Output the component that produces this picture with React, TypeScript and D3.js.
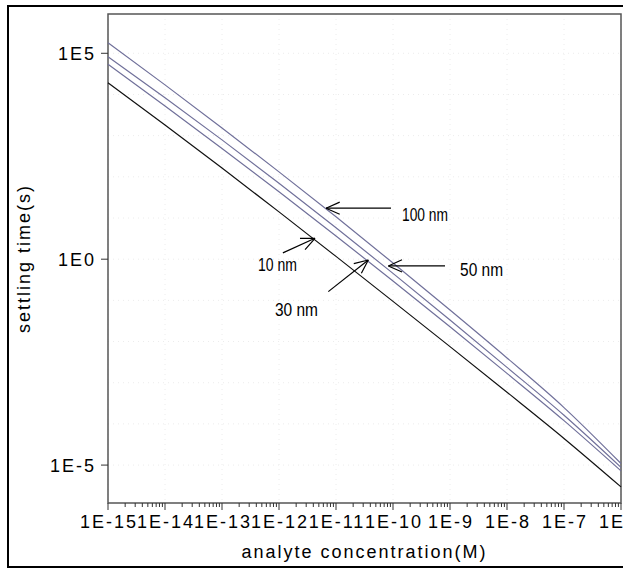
import { useMemo } from 'react';
import * as d3 from 'd3';

// analyte concentration (M), one point per decade
const concentrations = [1e-15, 1e-14, 1e-13, 1e-12, 1e-11, 1e-10, 1e-9, 1e-8, 1e-7, 1e-6];

// settling time (s) for each particle size
const time100nm = [1.81e5, 1.71e4, 1.54e3, 132, 10.7, 0.807, 0.0582, 3.99e-3, 2.49e-4, 1.09e-5];
const time50nm = [8.26e4, 8.36e3, 789, 70.0, 5.81, 0.453, 0.0333, 2.36e-3, 1.62e-4, 8.79e-6];
const time30nm = [5.41e4, 5.27e3, 490, 43.4, 3.67, 0.296, 0.0228, 1.69e-3, 1.2e-4, 7.23e-6];
const time10nm = [1.93e4, 1.82e3, 164, 14.1, 1.17, 0.0946, 7.52e-3, 5.86e-4, 4.43e-5, 2.95e-6];

const xTickValues = [1e-15, 1e-14, 1e-13, 1e-12, 1e-11, 1e-10, 1e-9, 1e-8, 1e-7, 1e-6];
const xTickLabels = ['1E-15', '1E-14', '1E-13', '1E-12', '1E-11', '1E-10', '1E-9', '1E-8', '1E-7', '1E-6'];
const yTickValues = [1e5, 1, 1e-5];
const yTickLabels = ['1E5', '1E0', '1E-5'];

// labels with arrows, in data coordinates
const notes = [
  { label: '100 nm', tip: [6.68e-12, 17.3], tail: [9.23e-11, 17.3], at: [1.44e-10, 8.47], w: 46 },
  { label: '50 nm', tip: [8.28e-11, 0.686], tail: [8.17e-10, 0.686], at: [1.5e-9, 0.381], w: 43 },
  { label: '10 nm', tip: [4.28e-12, 3.22], tail: [1.17e-12, 1.42], at: [4.28e-13, 0.518], w: 39 },
  { label: '30 nm', tip: [3.69e-11, 0.957], tail: [7.33e-12, 0.163], at: [8.51e-13, 0.0406], w: 43 },
];

const W = 623;
const H = 569;
const plot = { left: 108, right: 621, top: 14, bottom: 503 };
const font = '"Liberation Sans", Arial, sans-serif';

export default function App() {
  const x = d3.scaleLog().domain([1e-15, 1e-6]).range([plot.left, plot.right]);
  const y = d3.scaleLog().domain([1.2e-6, 9e5]).range([plot.bottom, plot.top]);

  const series = [
    { values: time100nm, color: '#70709a' },
    { values: time50nm, color: '#70709a' },
    { values: time30nm, color: '#70709a' },
    { values: time10nm, color: '#111' },
  ];

  const line = d3
    .line<number>()
    .x((_, i) => x(concentrations[i]))
    .y((d) => y(d))
    .curve(d3.curveMonotoneX);

  const minorTicks = useMemo(() => {
    const out: number[] = [];
    for (let e = -15; e < -6; e++) {
      for (let k = 2; k <= 9; k++) out.push(k * Math.pow(10, e));
    }
    return out;
  }, []);

  const yGrid = [1e5, 1e4, 1e3, 1e2, 10, 1, 0.1, 1e-2, 1e-3, 1e-4, 1e-5];

  const arrowHead = (tip: number[], tail: number[]) => {
    const tx = x(tip[0]);
    const ty = y(tip[1]);
    const ang = Math.atan2(y(tail[1]) - ty, x(tail[0]) - tx);
    const len = 15;
    const spread = 0.42;
    return [ang - spread, ang + spread]
      .map((a) => `M${tx},${ty}L${tx + len * Math.cos(a)},${ty + len * Math.sin(a)}`)
      .join('');
  };

  return (
    <svg
      width={W}
      height={H}
      style={{ position: 'absolute', left: 0, top: 0, background: '#fff' }}
      fontFamily={font}
    >
      <rect x={0} y={0} width={W} height={H} fill="#fff" />
      {/* outer frame */}
      <rect x={8} y={6} width={700} height={561} fill="none" stroke="#000" strokeWidth={2} />

      {/* faint grid */}
      <g stroke="#ececec" strokeWidth={1} strokeDasharray="1,4">
        {xTickValues.map((v) => (
          <line key={'gx' + v} x1={x(v)} x2={x(v)} y1={plot.top} y2={plot.bottom} />
        ))}
        {yGrid.map((v) => (
          <line key={'gy' + v} x1={plot.left} x2={plot.right} y1={y(v)} y2={y(v)} />
        ))}
      </g>

      {/* plot frame */}
      <rect
        x={plot.left}
        y={plot.top}
        width={plot.right - plot.left}
        height={plot.bottom - plot.top}
        fill="none"
        stroke="#555"
        strokeWidth={1.5}
      />

      {/* curves */}
      {series.map((s, i) => (
        <path key={i} d={line(s.values) ?? ''} fill="none" stroke={s.color} strokeWidth={1.2} />
      ))}

      {/* axis ticks */}
      <g stroke="#333" strokeWidth={1}>
        {minorTicks.map((v) => (
          <line key={'mt' + v} x1={x(v)} x2={x(v)} y1={plot.bottom} y2={plot.bottom + 4} />
        ))}
        {xTickValues.map((v) => (
          <line key={'xt' + v} x1={x(v)} x2={x(v)} y1={plot.bottom} y2={plot.bottom + 7} />
        ))}
        {yTickValues.map((v) => (
          <line key={'yt' + v} x1={plot.left - 7} x2={plot.left} y1={y(v)} y2={y(v)} />
        ))}
      </g>
      <g fontSize={18} letterSpacing={2} fill="#000">
        {xTickValues.map((v, i) => (
          <text key={'xl' + v} x={x(v) + 1} y={plot.bottom + 25} textAnchor="middle">
            {xTickLabels[i]}
          </text>
        ))}
        {yTickValues.map((v, i) => (
          <text key={'yl' + v} x={plot.left - 12} y={y(v) + 6.5} textAnchor="end">
            {yTickLabels[i]}
          </text>
        ))}
        <text x={(plot.left + plot.right) / 2} y={558} textAnchor="middle">
          analyte concentration(M)
        </text>
        <text
          transform={`translate(30,${(plot.top + plot.bottom) / 2}) rotate(-90)`}
          textAnchor="middle"
        >
          settling time(s)
        </text>
      </g>

      {/* annotations */}
      <g stroke="#000" strokeWidth={1.2} fill="none">
        {notes.map((n) => (
          <g key={n.label}>
            <line x1={x(n.tail[0])} y1={y(n.tail[1])} x2={x(n.tip[0])} y2={y(n.tip[1])} />
            <path d={arrowHead(n.tip, n.tail)} />
          </g>
        ))}
      </g>
      <g fontSize={19} fill="#000">
        {notes.map((n) => (
          <text
            key={'t' + n.label}
            x={x(n.at[0])}
            y={y(n.at[1])}
            textLength={n.w}
            lengthAdjust="spacingAndGlyphs"
          >
            {n.label}
          </text>
        ))}
      </g>
    </svg>
  );
}
